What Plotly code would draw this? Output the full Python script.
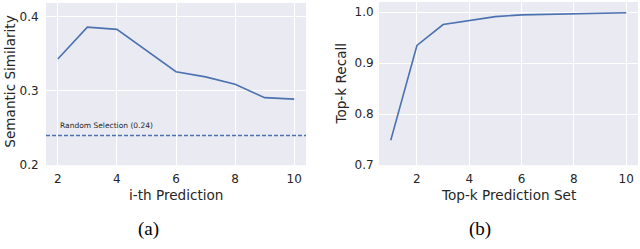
import plotly.graph_objects as go

# Panel (a)
pred_index = [2, 3, 4, 5, 6, 7, 8, 9, 10]
semantic_similarity = [0.343, 0.386, 0.383, 0.355, 0.326, 0.319, 0.309, 0.291, 0.289]
random_baseline = 0.24

# Panel (b)
topk = [1, 2, 3, 4, 5, 6, 7, 8, 9, 10]
topk_recall = [0.749, 0.935, 0.976, 0.984, 0.9915, 0.995, 0.996, 0.997, 0.998, 0.999]

x_ticks = [2, 4, 6, 8, 10]
y_ticks_a = [0.2, 0.3, 0.4]
y_ticks_b = [0.7, 0.8, 0.9, 1.0]

W, H = 640, 249
LINE = "#4C72B0"
BG = "#EAEAF2"
TXT = "#262626"
FONT = "DejaVu Sans"

def px(x):
    return x / W

def py(y):
    return 1 - y / H

fig = go.Figure()
fig.add_trace(go.Scatter(x=pred_index, y=semantic_similarity, mode="lines",
                         line=dict(color=LINE, width=1.6), xaxis="x", yaxis="y",
                         showlegend=False))
fig.add_trace(go.Scatter(x=topk, y=topk_recall, mode="lines",
                         line=dict(color=LINE, width=1.6), xaxis="x2", yaxis="y2",
                         showlegend=False))

def axis_style(ticklen):
    return dict(showgrid=True, gridcolor="white", gridwidth=1.2, zeroline=False,
                showline=False, ticks="outside", ticklen=ticklen,
                tickcolor="rgba(0,0,0,0)",
                tickfont=dict(family=FONT, size=12, color=TXT))

fig.update_layout(
    width=W, height=H,
    margin=dict(l=0, r=0, t=0, b=0),
    paper_bgcolor="white",
    plot_bgcolor=BG,
    xaxis=dict(domain=[px(46), px(306)], range=[1.6, 10.4], tickvals=x_ticks,
               anchor="y", **axis_style(2)),
    yaxis=dict(domain=[py(170), py(3)], range=[0.2, 0.4186], tickvals=y_ticks_a,
               ticktext=[f"{v:.1f}" for v in y_ticks_a], anchor="x", **axis_style(4)),
    xaxis2=dict(domain=[px(379), px(638)], range=[0.55, 10.45], tickvals=x_ticks,
                anchor="y2", **axis_style(2)),
    yaxis2=dict(domain=[py(170), py(2)], range=[0.7, 1.0203], tickvals=y_ticks_b,
                ticktext=[f"{v:.1f}" for v in y_ticks_b], anchor="x2", **axis_style(2)),
)

fig.add_shape(type="line", xref="x domain", yref="y", x0=0, x1=1,
              y0=random_baseline, y1=random_baseline,
              line=dict(color=LINE, width=1.4, dash="4px,2px"))

ann_font = dict(family=FONT, size=13.6, color=TXT)
fig.add_annotation(x=2, y=random_baseline + 0.014, xref="x", yref="y",
                   text=f"Random Selection ({random_baseline})", showarrow=False,
                   xanchor="left", yanchor="middle",
                   font=dict(family=FONT, size=7.5, color=TXT))
# axis titles
fig.add_annotation(x=px(176), y=py(200.5), xref="paper", yref="paper",
                   text="i-th Prediction", showarrow=False, font=ann_font,
                   xanchor="center", yanchor="middle")
fig.add_annotation(x=px(10), y=py(84), xref="paper", yref="paper",
                   text="Semantic Similarity", showarrow=False, font=ann_font,
                   textangle=-90, xanchor="center", yanchor="middle")
fig.add_annotation(x=px(508.5), y=py(200.5), xref="paper", yref="paper",
                   text="Top-k Prediction Set", showarrow=False, font=ann_font,
                   xanchor="center", yanchor="middle")
fig.add_annotation(x=px(341), y=py(86), xref="paper", yref="paper",
                   text="Top-k Recall", showarrow=False, font=ann_font,
                   textangle=-90, xanchor="center", yanchor="middle")
# captions
cap_font = dict(family="Liberation Serif", size=19, color="black")
fig.add_annotation(x=px(148), y=py(236), xref="paper", yref="paper", text="(a)",
                   showarrow=False, font=cap_font, xanchor="center", yanchor="middle")
fig.add_annotation(x=px(480), y=py(236), xref="paper", yref="paper", text="(b)",
                   showarrow=False, font=cap_font, xanchor="center", yanchor="middle")

fig.write_html("out.html",
               config={"displayModeBar": False, "responsive": False},
               post_script="document.body.style.margin='0';document.body.style.overflow='hidden';")
